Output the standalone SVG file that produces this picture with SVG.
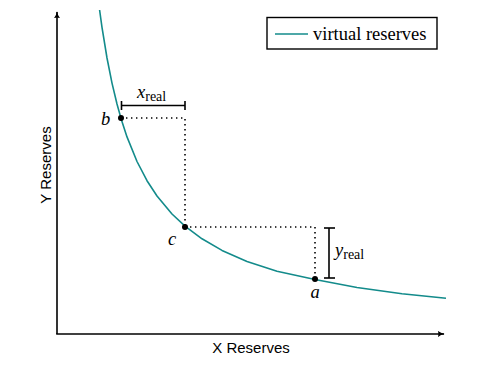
<svg xmlns="http://www.w3.org/2000/svg" width="496" height="373" viewBox="0 0 496 373">
<style>
.axis{stroke:#000;stroke-width:1.6;fill:none}
.curve{stroke:#138b8b;stroke-width:1.6;fill:none;stroke-linejoin:round}
.dot{stroke:#000;stroke-width:1.6;stroke-dasharray:1.4 3.6;fill:none}
.br{stroke:#000;stroke-width:1.6;fill:none}
.lbl{font-family:"Liberation Serif",serif;font-style:italic;font-size:18.5px;fill:#000}
.sub{font-family:"Liberation Serif",serif;font-style:normal;font-size:14px;fill:#000}
.ax{font-family:"Liberation Sans",sans-serif;font-size:15px;fill:#000}
.leg{font-family:"Liberation Serif",serif;font-size:18.5px;fill:#000}
</style>
<defs>
<marker id="arr" viewBox="0 0 10 10" refX="9" refY="5" markerWidth="7" markerHeight="7" markerUnits="userSpaceOnUse" orient="auto">
<path d="M0,0.5 Q4,4 10,5 Q4,6 0,9.5 Q2,5 0,0.5 Z" fill="#000"/>
</marker>
</defs>
<g id="axes">
<line class="axis" x1="57" y1="334" x2="57" y2="12" marker-end="url(#arr)"/>
<line class="axis" x1="56.2" y1="334" x2="444" y2="334" marker-end="url(#arr)"/>
<text class="ax" x="251" y="353" text-anchor="middle">X Reserves</text>
<text class="ax" transform="translate(51,165) rotate(-90)" text-anchor="middle">Y Reserves</text>
</g>
<g id="curve">
<polyline class="curve" points="99.6,10 102,27.3 107,58 112,83.1 117,104 121,118.4 127,136.9 137,161.5 147,180.7 157,196 172,214 185,226.2 202,238.8 222,250.4 247,261.4 277,271.3 315,279.5 357,287.5 402,293.8 446,298.2"/>
</g>
<g id="connectors">
<polyline class="dot" points="121,118 185,118 185,226"/>
<polyline class="dot" points="185,227 315,227 315,279"/>
</g>
<g id="x-real">
<line class="br" x1="121.5" y1="105.5" x2="185" y2="105.5"/>
<line class="br" x1="121.5" y1="101" x2="121.5" y2="110"/>
<line class="br" x1="185" y1="101" x2="185" y2="110"/>
<text x="137" y="98"><tspan class="lbl">x</tspan><tspan class="sub" dy="3">real</tspan></text>
</g>
<g id="y-real">
<line class="br" x1="329" y1="228" x2="329" y2="278"/>
<line class="br" x1="324" y1="228" x2="335" y2="228"/>
<line class="br" x1="324" y1="278" x2="335" y2="278"/>
<text x="335" y="256"><tspan class="lbl">y</tspan><tspan class="sub" dy="3">real</tspan></text>
</g>
<g id="point-b">
<circle cx="121" cy="118" r="3" fill="#000"/>
<text class="lbl" x="101" y="125">b</text>
</g>
<g id="point-c">
<circle cx="185" cy="227" r="3" fill="#000"/>
<text class="lbl" x="168" y="245">c</text>
</g>
<g id="point-a">
<circle cx="315" cy="279" r="3" fill="#000"/>
<text class="lbl" x="315" y="298" text-anchor="middle">a</text>
</g>
<g id="legend">
<rect x="267" y="17.5" width="170" height="31.5" fill="#fff" stroke="#000" stroke-width="1.4"/>
<line x1="275" y1="34" x2="308" y2="34" stroke="#138b8b" stroke-width="1.6"/>
<text class="leg" x="313" y="40">virtual reserves</text>
</g>
</svg>
